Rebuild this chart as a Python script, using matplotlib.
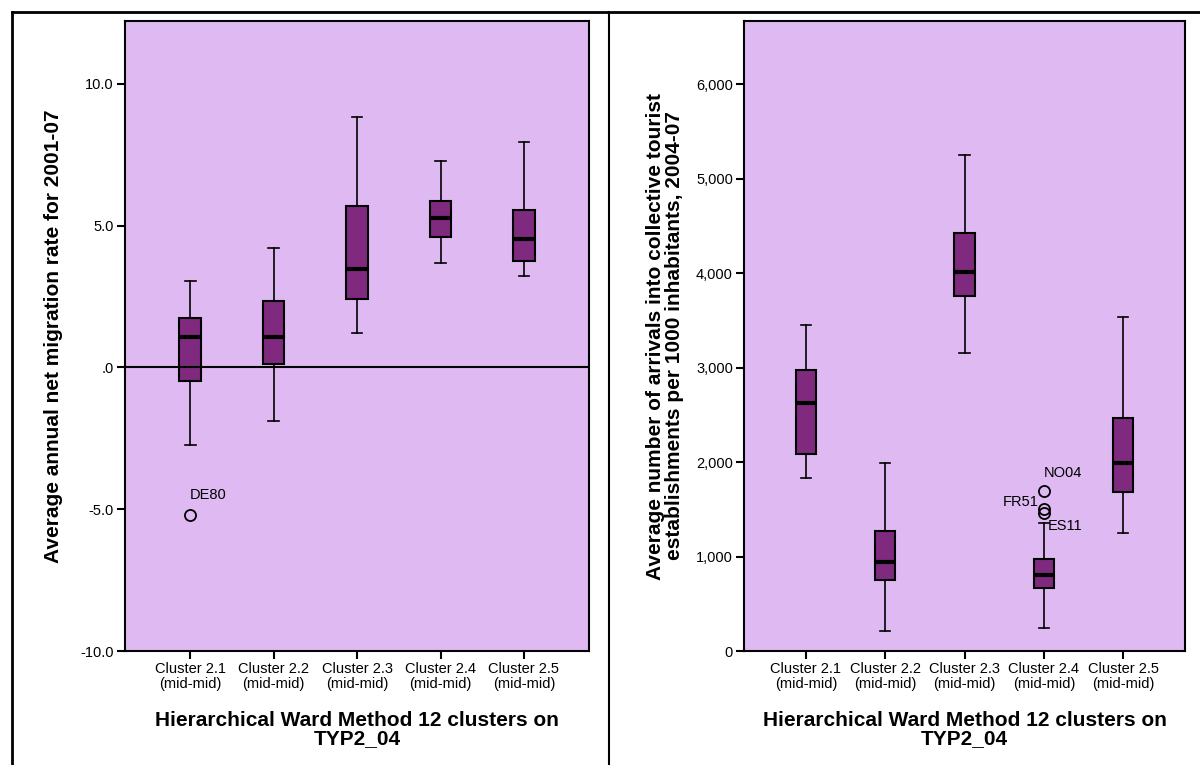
import numpy as np
import matplotlib.pyplot as plt
from matplotlib.lines import Line2D

plt.rcParams['font.family'] = ['Liberation Sans', 'DejaVu Sans']

clusters = ["Cluster 2.1\n(mid-mid)", "Cluster 2.2\n(mid-mid)", "Cluster 2.3\n(mid-mid)",
            "Cluster 2.4\n(mid-mid)", "Cluster 2.5\n(mid-mid)"]

# migration rate: whislo, q1, med, q3, whishi
mig_low = [-2.72, -1.87, 1.20, 3.67, 3.21]
mig_q1 = [-0.49, 0.14, 2.40, 4.62, 3.74]
mig_med = [1.06, 1.06, 3.46, 5.26, 4.52]
mig_q3 = [1.76, 2.33, 5.68, 5.89, 5.57]
mig_high = [3.05, 4.20, 8.82, 7.30, 7.94]
mig_out = {0: [(-5.22, "DE80")]}

# tourist arrivals
tour_low = [1831, 212, 3153, 243, 1249]
tour_q1 = [2085, 751, 3757, 667, 1683]
tour_med = [2624, 942, 4011, 804, 1989]
tour_q3 = [2974, 1270, 4423, 974, 2466]
tour_high = [3450, 1989, 5249, 1354, 3534]
tour_out = {3: [(1693, "NO04"), (1503, "FR51"), (1460, "ES11")]}

bg = '#dfbaf2'
boxcol = '#7f2a7f'


def stats(lo, q1, med, q3, hi, out):
    s = []
    for i in range(len(lo)):
        s.append({'whislo': lo[i], 'q1': q1[i], 'med': med[i], 'q3': q3[i], 'whishi': hi[i],
                  'fliers': [v for v, _ in out.get(i, [])]})
    return s


def panel(ax, st, ylim, yticks, ylabels, ylab):
    ax.set_facecolor(bg)
    ax.bxp(st, positions=np.arange(1, 6), widths=0.26, patch_artist=True,
           boxprops=dict(facecolor=boxcol, edgecolor='black', linewidth=1.5),
           medianprops=dict(color='black', linewidth=3),
           whiskerprops=dict(color='black', linewidth=1.2),
           capprops=dict(color='black', linewidth=1.2),
           flierprops=dict(marker='o', markerfacecolor='none', markeredgecolor='black',
                           markersize=8, markeredgewidth=1.3),
           capwidths=0.13)
    ax.set_xlim(0.22, 5.78)
    ax.set_ylim(*ylim)
    ax.set_yticks(yticks)
    ax.set_yticklabels(ylabels, fontsize=10.5)
    ax.set_xticks(np.arange(1, 6))
    ax.set_xticklabels(clusters, fontsize=10.5, linespacing=1.1)
    ax.tick_params(direction='out', length=6, width=1.5, top=False, right=False, pad=2)
    for sp in ax.spines.values():
        sp.set_linewidth(1.5)
    ax.set_ylabel(ylab, fontsize=15, fontweight='bold', linespacing=1.0)
    ax.set_xlabel("Hierarchical Ward Method 12 clusters on\nTYP2_04", fontsize=15,
                  fontweight='bold', linespacing=0.95, labelpad=14)


fig = plt.figure(figsize=(12, 7.65), dpi=100)

ax1 = fig.add_axes([0.1042, 0.149, 0.3867, 0.8235])
panel(ax1, stats(mig_low, mig_q1, mig_med, mig_q3, mig_high, mig_out),
      (-10, 12.22), [-10, -5, 0, 5, 10], ["-10.0", "-5.0", ".0", "5.0", "10.0"],
      "Average annual net migration rate for 2001-07")
ax1.axhline(0, color='black', linewidth=1.5)
ax1.yaxis.set_label_coords(-0.134, 0.5)
ax1.annotate("DE80", (1, mig_out[0][0][0]), xytext=(0, 10), textcoords='offset points',
             fontsize=10.5, ha='left', va='bottom')

ax2 = fig.add_axes([0.62, 0.149, 0.3675, 0.8235])
panel(ax2, stats(tour_low, tour_q1, tour_med, tour_q3, tour_high, tour_out),
      (0, 6667), [0, 1000, 2000, 3000, 4000, 5000, 6000],
      ["0", "1,000", "2,000", "3,000", "4,000", "5,000", "6,000"],
      "Average number of arrivals into collective tourist\nestablishments per 1000 inhabitants, 2004-07")
ax2.yaxis.set_label_coords(-0.136, 0.5)
o = tour_out[3]
ax2.annotate(o[0][1], (4, o[0][0]), xytext=(0, 8), textcoords='offset points',
             fontsize=10.5, ha='left', va='bottom')
ax2.annotate(o[1][1], (4, o[1][0]), xytext=(-4, 0), textcoords='offset points',
             fontsize=10.5, ha='right', va='bottom')
ax2.annotate(o[2][1], (4, o[2][0]), xytext=(3, -4), textcoords='offset points',
             fontsize=10.5, ha='left', va='top')

# outer frame and divider
fig.add_artist(Line2D([12 / 1200, 12 / 1200], [0, 1 - 12 / 765], color='black', linewidth=2))
fig.add_artist(Line2D([12 / 1200, 1], [1 - 12 / 765, 1 - 12 / 765], color='black', linewidth=2))
fig.add_artist(Line2D([609 / 1200, 609 / 1200], [0, 1 - 12 / 765], color='black', linewidth=1.5))

fig.savefig('out.png', dpi=100)
